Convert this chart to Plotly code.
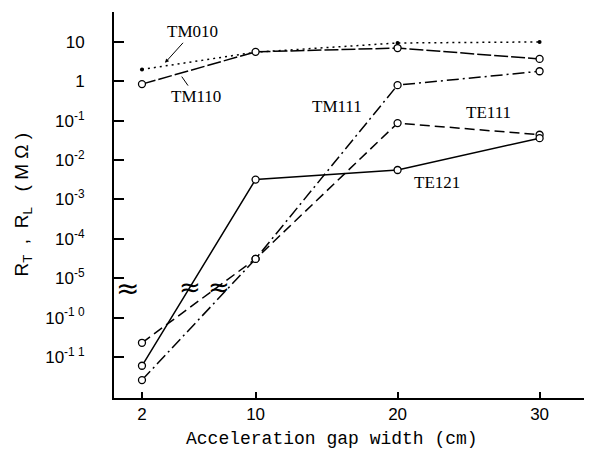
import math
import plotly.graph_objects as go

# ---- data ----
gap_cm = [2, 10, 20, 30]
tm010 = [2.0, 5.5, 9.4, 10.0]
tm110 = [0.85, 5.6, 7.0, 3.7]
tm111 = [2.6e-12, 3.1e-5, 0.8, 1.8]
te111 = [2.3e-11, 3.1e-5, 0.087, 0.044]
te121 = [6.0e-12, 3.2e-3, 5.6e-3, 0.036]

tick_values = [10, 1, 1e-1, 1e-2, 1e-3, 1e-4, 1e-5, 1e-10, 1e-11]
tick_labels = ["10", "1", "10<sup>-1</sup>", "10<sup>-2</sup>", "10<sup>-3</sup>",
               "10<sup>-4</sup>", "10<sup>-5</sup>", "10<sup>-1 0</sup>", "10<sup>-1 1</sup>"]
x_ticks = [2, 10, 20, 30]

BREAK_SHIFT = 4  # decades removed by the axis break (1e-6 .. 1e-9)


def tpos(v):
    l = math.log10(v)
    return l if l >= -5.5 else l + BREAK_SHIFT


AXIS_BREAK_T = -5.27
LINE_BREAK_T = -5.22

fig = go.Figure()

open_mk = dict(symbol="circle", size=7, color="white", line=dict(width=1.3, color="black"))
series = [
    ("TM010", tm010, "2px,4px", dict(symbol="circle", size=4, color="black")),
    ("TM110", tm110, "14px,3px", open_mk),
    ("TM111", tm111, "12px,4px,2px,4px", open_mk),
    ("TE111", te111, "10px,5px", open_mk),
    ("TE121", te121, "solid", open_mk),
]
for name, vals, dash, mk in series:
    fig.add_trace(go.Scatter(
        x=gap_cm, y=[tpos(v) for v in vals], mode="lines+markers", name=name,
        line=dict(color="black", width=1.5, dash=dash), marker=mk, showlegend=False))

font_lbl = dict(family="Liberation Serif", size=17, color="black")
annotations = []
# break marks where lines cross the axis break
crossings = []
for vals in (te121, te111, tm111):
    t0, t1 = tpos(vals[0]), tpos(vals[1])
    if t0 < LINE_BREAK_T < t1:
        f = (LINE_BREAK_T - t0) / (t1 - t0)
        crossings.append(gap_cm[0] + f * (gap_cm[1] - gap_cm[0]))
brk_font = dict(family="DejaVu Sans", size=26, color="black")
annotations.append(dict(x=crossings[0], y=LINE_BREAK_T, xref="x", yref="y", text="≈",
                        showarrow=False, font=brk_font))
annotations.append(dict(x=sum(crossings[1:]) / 2, y=LINE_BREAK_T, xref="x", yref="y", text="≈",
                        xshift=-4, showarrow=False, font=brk_font))
# break mark on the y axis
annotations.append(dict(x=0, y=AXIS_BREAK_T, xref="paper", yref="y", text="≈", showarrow=False,
                        font=dict(family="DejaVu Sans", size=28, color="black")))

# series labels
annotations += [
    dict(x=3.62, y=0.47, xref="x", yref="y", text="TM010", ax=28, ay=-31, showarrow=True,
         arrowhead=2, arrowsize=0.8, arrowwidth=1, arrowcolor="black", font=font_lbl),
    dict(x=4.8, y=0.12, xref="x", yref="y", text="TM110", ax=14, ay=20, showarrow=True,
         arrowhead=0, arrowwidth=1, arrowcolor="black", font=font_lbl),
    dict(x=15.7, y=-0.65, xref="x", yref="y", text="TM111", showarrow=False, font=font_lbl),
    dict(x=26.4, y=-0.78, xref="x", yref="y", text="TE111", showarrow=False, font=font_lbl),
    dict(x=22.8, y=-2.58, xref="x", yref="y", text="TE121", showarrow=False, font=font_lbl),
]
# axis titles
sp = "\u00a0"
annotations.append(dict(x=-0.192, y=0.50, xref="paper", yref="paper", textangle=-90,
                        xanchor="center", yanchor="middle",
                        text=f"R<sub>T</sub>{sp*2},{sp*2}R<sub>L</sub>{sp*3}({sp}M{sp}Ω{sp})",
                        showarrow=False,
                        font=dict(family="Liberation Sans", size=19, color="black")))
annotations.append(dict(x=0.458, y=-0.075, xref="paper", yref="paper", yanchor="top",
                        xanchor="center",
                        text="Acceleration gap width (cm)", showarrow=False,
                        font=dict(family="Liberation Mono", size=18, color="black")))

# page body has an 8px default margin, so the figure is sized to fit the 592x451 window
fig.update_layout(
    width=584, height=443,
    margin=dict(l=106, r=2, t=4, b=53),
    paper_bgcolor="white", plot_bgcolor="white",
    annotations=annotations,
    xaxis=dict(range=[0.03, 33.55], tickvals=x_ticks, ticks="inside", ticklen=6, tickwidth=1.5,
               tickcolor="black", showline=True, linecolor="black", linewidth=2, showgrid=False,
               zeroline=False, automargin=False,
               tickfont=dict(family="Liberation Sans", size=17, color="black")),
    yaxis=dict(range=[-8.04, 1.76], tickvals=[tpos(v) for v in tick_values], ticktext=tick_labels,
               ticks="inside", ticklen=10, tickwidth=1.5, tickcolor="black", showline=True,
               linecolor="black", linewidth=2, showgrid=False, zeroline=False, automargin=False,
               ticklabelstandoff=24,
               tickfont=dict(family="Liberation Sans", size=17, color="black")),
)

fig.write_html("out.html")
